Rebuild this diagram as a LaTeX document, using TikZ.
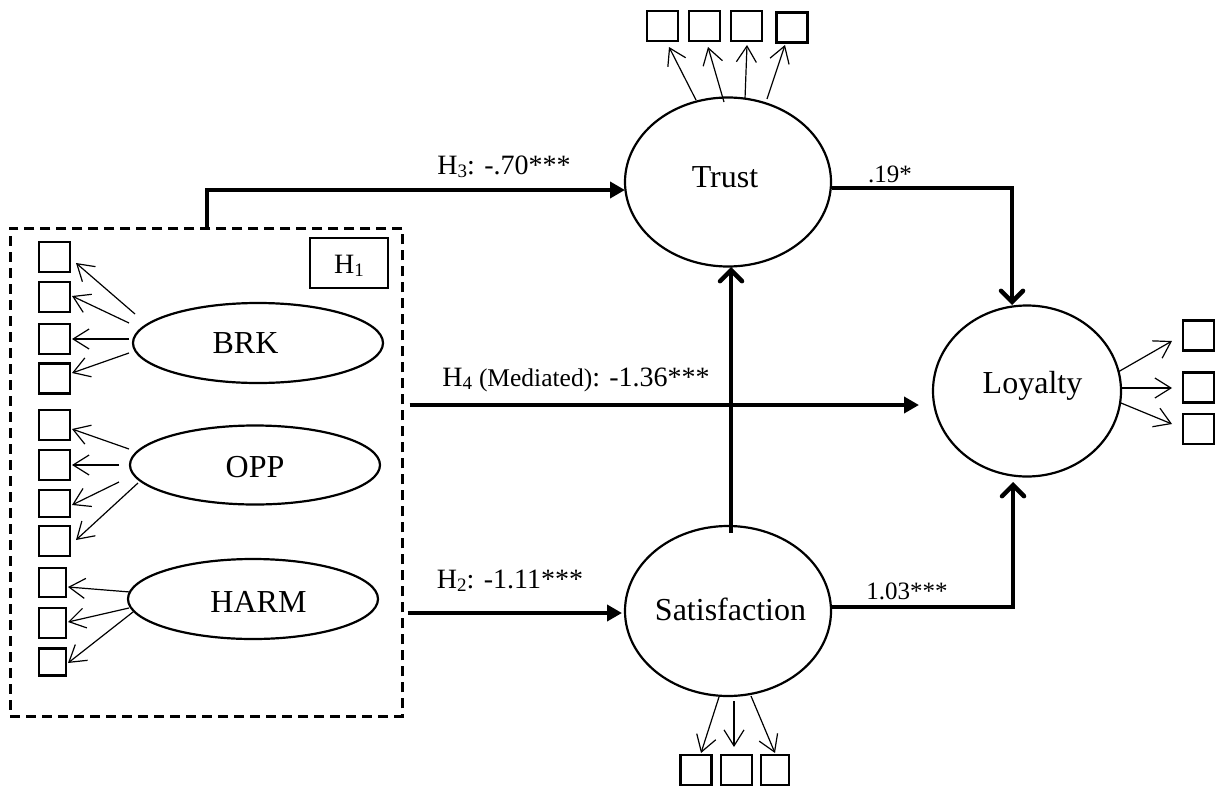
\documentclass[tikz,border=0pt]{standalone}
\usepackage{fontspec}
\setmainfont{Liberation Serif}
\usetikzlibrary{shapes.geometric,arrows.meta,calc}
\newcommand\hsub[1]{\raisebox{-3pt}{\fontsize{19}{19}\selectfont #1}}
\tikzset{
  lat/.style={ellipse, draw, line width=2.2pt, inner sep=0pt, font=\fontsize{32}{36}\selectfont},
  ind/.style={rectangle, draw, line width=2.6pt, minimum width=31pt, minimum height=30pt, inner sep=0pt},
  load/.style={line width=1.2pt, -{Straight Barb[length=16pt,width=20pt]}},
  hyp/.style={line width=4.5pt, -{Triangle[length=15pt,width=16pt]}},
  eff/.style={line width=4.5pt, -{Straight Barb[length=11pt,width=22pt,line cap=round]}},
  lab/.style={anchor=base, inner sep=0pt, font=\fontsize{28}{32}\selectfont},
  coef/.style={anchor=base, inner sep=0pt, font=\fontsize{25}{30}\selectfont},
  grpbox/.style={draw, line width=2.5pt, dash pattern=on 10pt off 6pt, inner sep=0pt, anchor=north west},
}
\begin{document}
\begin{tikzpicture}[x=1pt,y=-1pt]
\useasboundingbox (0,0) rectangle (1218,787);
% group box
\node[grpbox, minimum width=392pt, minimum height=488pt] (grp) at (9,227) {};
\node[draw, line width=1.8pt, minimum width=78pt, minimum height=50pt, inner sep=0pt, text height=20pt, text depth=0pt, font=\fontsize{28}{32}\selectfont] (h1) at (349,263) {H\hsub{1}};
% latent variables
\node[lat, minimum width=206pt, minimum height=169pt, text height=22pt, text depth=12pt] (trust) at (728,182) {\makebox[0pt]{Trust\hspace{6pt}}};
\node[lat, minimum width=206pt, minimum height=170pt, text height=22pt, text depth=4pt] (sat) at (728,611) {\makebox[0pt]{\hspace{5pt}Satisfaction}};
\node[lat, minimum width=188pt, minimum height=171pt, text height=22pt, text depth=18pt] (loy) at (1027,391) {\makebox[0pt]{\hspace{11pt}Loyalty}};
\node[lat, minimum width=250pt, minimum height=80pt, text height=22pt, text depth=2pt] (brk) at (258,343) {\makebox[0pt]{BRK\hspace{25pt}}};
\node[lat, minimum width=250pt, minimum height=79pt, text height=26pt, text depth=2pt] (opp) at (255,465) {OPP};
\node[lat, minimum width=250pt, minimum height=80pt, text height=26pt, text depth=0pt] (harm) at (253,599) {\makebox[0pt]{\hspace{11pt}HARM}};
% indicators left
\node[ind] (q1) at (54.5,257) {};
\node[ind] (q2) at (54.5,297) {};
\node[ind] (q3) at (54.5,339) {};
\node[ind] (q4) at (54.5,378.5) {};
\node[ind] (q5) at (54.5,425) {};
\node[ind] (q6) at (54.5,465) {};
\node[ind, minimum height=27pt] (q7) at (54.5,503.5) {};
\node[ind] (q8) at (54.5,541) {};
\node[ind, minimum width=27pt, minimum height=29pt] (q9) at (52.5,582.5) {};
\node[ind, minimum width=27pt] (q10) at (52.5,623) {};
\node[ind, minimum width=27pt, minimum height=27pt] (q11) at (52.5,662) {};
% indicators trust
\node[ind] (t1) at (662.5,26) {};
\node[ind] (t2) at (704.5,26) {};
\node[ind] (t3) at (746.5,26) {};
\node[ind] (t4) at (792,27.5) {};
% indicators loyalty
\node[ind] (l1) at (1198.5,335.5) {};
\node[ind] (l2) at (1198.5,387.5) {};
\node[ind] (l3) at (1198.5,429) {};
% indicators satisfaction
\node[ind] (s1) at (696,770) {};
\node[ind] (s2) at (736.5,770) {};
\node[ind, minimum width=28pt] (s3) at (775,770) {};
% loadings
\draw[load] ($(brk.center)+(-123,-29)$) -- ($(q1.center)+(21.5,6)$);
\draw[load] ($(brk.center)+(-129,-20)$) -- ($(q2.center)+(17.5,-1)$);
\draw[load] ($(brk.center)+(-129,-4)$) -- ($(q3.center)+(17.5,0)$);
\draw[load] ($(brk.center)+(-129,10)$) -- ($(q4.center)+(17.5,-5.5)$);
\draw[load] ($(opp.center)+(-126,-16)$) -- ($(q5.center)+(17.5,4)$);
\draw[load] ($(opp.center)+(-136,0)$) -- ($(q6.center)+(17.5,0)$);
\draw[load] ($(opp.center)+(-136,17)$) -- ($(q7.center)+(17.5,1.5)$);
\draw[load] ($(opp.center)+(-117,18)$) -- ($(q8.center)+(21.5,-1)$);
\draw[load] ($(harm.center)+(-123,-7)$) -- ($(q9.center)+(15.5,4.5)$);
\draw[load] ($(harm.center)+(-124,9)$) -- ($(q10.center)+(15.5,-1)$);
\draw[load] ($(harm.center)+(-120,13)$) -- ($(q11.center)+(15.5,1)$);
\draw[load] ($(trust.center)+(-32,-82)$) -- ($(t1.center)+(6.5,21)$);
\draw[load] ($(trust.center)+(-4,-80)$) -- ($(t2.center)+(3.5,21)$);
\draw[load] ($(trust.center)+(17,-83)$) -- ($(t3.center)+(0.5,19)$);
\draw[load] ($(trust.center)+(39,-83)$) -- ($(t4.center)+(-7,17.5)$);
\draw[load] ($(loy.center)+(91,-19)$) -- ($(l1.center)+(-26.5,5.5)$);
\draw[load] ($(loy.center)+(95,-3)$) -- ($(l2.center)+(-26.5,0.5)$);
\draw[load] ($(loy.center)+(94,12)$) -- ($(l3.center)+(-26.5,-5)$);
\draw[load] ($(sat.center)+(-9,86)$) -- ($(s1.center)+(5,-17)$);
\draw[load] ($(sat.center)+(6,90)$) -- ($(s2.center)+(-2.5,-23)$);
\draw[load] ($(sat.center)+(23,85)$) -- ($(s3.center)+(0,-17)$);
% structural paths
\draw[hyp] ($(grp.north west)+(198,0)$) |- ($(trust.center)+(-103,8)$);
\draw[hyp] ($(grp.north east)+(6,178)$) -- ($(loy.center)+(-108,14)$);
\draw[hyp] ($(grp.north east)+(4,386)$) -- ($(sat.center)+(-106,2)$);
\draw[eff] ($(sat.center)+(3,-78)$) -- ($(trust.center)+(3,85)$);
\draw[eff] ($(trust.center)+(104,6)$) -| ($(loy.center)+(-15,-86)$);
\draw[eff] ($(sat.center)+(103,-4)$) -| ($(loy.center)+(-14,91)$);
% labels
\node[lab] (lh3) at (504,174) {H\hsub{3}: -.70***};
\node[lab] (lh4) at (576,386) {H\hsub{4} {\fontsize{25.5}{28}\selectfont (Mediated)}: -1.36***};
\node[lab] (lh2) at (510,588) {H\hsub{2}: -1.11***};
\node[coef] (l19) at (890,182) {.19*};
\node[coef] (l103) at (907,599) {1.03***};
\end{tikzpicture}
\end{document}
